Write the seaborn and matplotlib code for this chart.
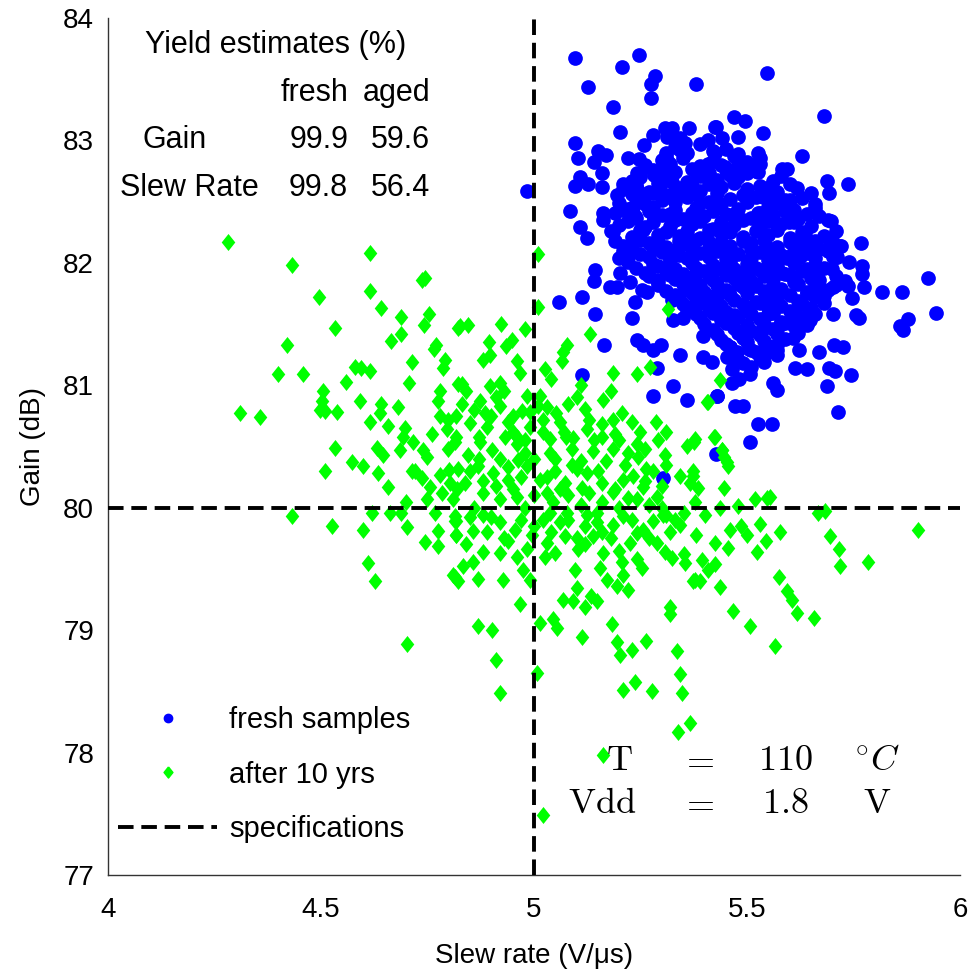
import numpy as np
import pandas as pd
import matplotlib
matplotlib.use("Agg")
import matplotlib.pyplot as plt
from matplotlib.lines import Line2D
import seaborn as sns

# -- Data: (slew rate V/us, gain dB)

# fresh samples, sparse points around the cloud
fresh_top = np.array([
    (5.096, 83.67), (5.246, 83.70), (5.207, 83.60), (5.284, 83.53), (5.275, 83.46),
    (5.127, 83.44), (5.380, 83.46), (5.275, 83.35), (5.185, 83.27), (5.202, 83.07),
    (5.096, 82.98), (5.103, 82.86), (5.150, 82.91), (5.169, 82.88), (5.141, 82.82),
    (4.983, 82.59), (5.108, 82.70), (5.096, 82.63), (5.127, 82.64), (5.160, 82.73),
    (5.160, 82.62), (5.085, 82.42), (5.108, 82.29), (5.124, 82.20), (5.162, 82.41),
    (5.162, 82.35), (5.185, 82.25), (5.195, 82.55), (5.209, 82.64), (5.221, 82.86),
    (5.246, 82.85), (5.258, 82.96), (5.279, 83.04), (5.308, 83.10), (5.324, 83.10),
    (5.312, 83.03), (5.343, 83.02), (5.354, 82.98), (5.343, 82.92), (5.364, 83.10),
    (5.408, 83.00), (5.425, 83.11), (5.310, 82.87), (5.315, 82.82), (5.242, 82.73),
    (5.249, 82.70), (5.282, 82.72), (5.303, 82.70), (5.324, 82.66), (5.296, 82.62),
    (5.242, 82.60), (5.263, 82.56), (5.383, 82.73), (5.408, 82.81), (5.209, 82.43),
    (5.232, 82.46), (5.237, 82.38), (5.256, 82.27), (5.277, 82.41), (5.319, 82.54),
    (5.347, 82.56), (5.366, 82.35), (5.383, 82.46), (5.209, 82.10), (5.225, 82.08),
])

fresh_upper_right = np.array([
    (5.547, 83.55), (5.681, 83.20), (5.469, 83.19), (5.495, 83.16), (5.427, 83.11),
    (5.441, 83.02), (5.479, 83.03), (5.538, 83.06), (5.425, 82.90), (5.526, 82.90),
    (5.531, 82.86), (5.629, 82.87), (5.477, 82.78), (5.526, 82.74), (5.582, 82.77),
    (5.594, 82.77), (5.448, 82.78), (5.617, 82.61), (5.688, 82.67), (5.692, 82.57),
    (5.737, 82.64), (5.547, 82.61), (5.538, 82.54), (5.559, 82.49), (5.589, 82.51),
    (5.594, 82.43), (5.660, 82.45), (5.526, 82.41), (5.523, 82.35), (5.599, 82.33),
    (5.697, 82.34), (5.636, 82.24), (5.631, 82.19), (5.695, 82.17), (5.718, 82.14),
    (5.768, 82.16), (5.643, 82.11), (5.594, 82.05), (5.624, 82.05), (5.711, 82.05),
])

fresh_lower_right = np.array([
    (5.925, 81.88), (5.944, 81.59), (5.864, 81.76), (5.878, 81.54), (5.859, 81.48),
    (5.866, 81.45), (5.817, 81.76), (5.770, 81.91), (5.775, 81.80), (5.737, 81.81),
    (5.746, 81.71), (5.756, 81.57), (5.763, 81.55), (5.702, 81.58), (5.704, 81.33),
    (5.725, 81.31), (5.669, 81.27), (5.622, 81.29), (5.613, 81.14), (5.641, 81.13),
    (5.692, 81.14), (5.706, 81.12), (5.744, 81.08), (5.688, 80.99), (5.714, 80.78),
    (5.561, 81.02), (5.570, 80.96), (5.507, 81.09), (5.465, 81.13), (5.481, 81.05),
    (5.465, 81.02), (5.430, 80.91), (5.472, 80.83), (5.491, 80.83), (5.526, 80.68),
    (5.559, 80.68), (5.507, 80.54), (5.427, 80.44), (5.505, 81.30), (5.545, 81.26),
    (5.559, 81.31), (5.570, 81.29), (5.460, 81.31), (5.477, 81.27), (5.453, 81.23),
    (5.608, 81.39), (5.535, 81.45), (5.646, 81.59), (5.648, 81.53), (5.620, 81.56),
    (5.577, 81.49), (5.549, 81.58), (5.472, 81.56), (5.671, 81.78), (5.702, 81.80),
    (5.702, 82.05), (5.594, 82.04), (5.554, 81.92), (5.582, 81.92), (5.664, 81.89),
])

fresh_lower_left = np.array([
    (5.059, 81.68), (5.113, 81.72), (5.143, 81.94), (5.141, 81.85), (5.143, 81.58),
    (5.164, 81.33), (5.113, 81.08), (5.178, 81.80), (5.195, 81.80), (5.202, 81.92),
    (5.225, 81.84), (5.230, 81.55), (5.237, 81.68), (5.254, 81.78), (5.265, 81.76),
    (5.242, 81.37), (5.256, 81.33), (5.279, 81.29), (5.298, 81.33), (5.289, 81.86),
    (5.289, 81.14), (5.279, 80.91), (5.326, 80.99), (5.343, 81.25), (5.359, 80.88),
    (5.324, 81.70), (5.350, 81.55), (5.397, 81.40), (5.397, 81.23), (5.418, 81.19),
    (5.430, 80.91), (5.326, 81.53), (5.366, 81.62), (5.303, 80.24),
])

# fresh samples, dense core of the cloud
fresh_core = np.array([
    (5.33, 82.95), (5.39, 82.97), (5.45, 82.93), (5.36, 82.90),
    (5.30, 82.84), (5.35, 82.86), (5.42, 82.83), (5.47, 82.87), (5.50, 82.82),
    (5.28, 82.76), (5.33, 82.74), (5.37, 82.77), (5.41, 82.73), (5.45, 82.76), (5.52, 82.75),
    (5.23, 82.67), (5.31, 82.69), (5.36, 82.66), (5.43, 82.68), (5.48, 82.70), (5.56, 82.67),
    (5.21, 82.60), (5.27, 82.58), (5.34, 82.61), (5.39, 82.59), (5.44, 82.62), (5.50, 82.60),
    (5.57, 82.58),
    (5.25, 82.53), (5.30, 82.51), (5.36, 82.54), (5.41, 82.50), (5.46, 82.52), (5.52, 82.54),
    (5.60, 82.51), (5.63, 82.53),
    (5.22, 82.44), (5.28, 82.46), (5.33, 82.43), (5.38, 82.45), (5.43, 82.47), (5.48, 82.44),
    (5.55, 82.46), (5.61, 82.43),
    (5.24, 82.37), (5.30, 82.39), (5.35, 82.36), (5.40, 82.38), (5.45, 82.40), (5.51, 82.37),
    (5.56, 82.39), (5.62, 82.36), (5.67, 82.38),
    (5.20, 82.31), (5.26, 82.29), (5.32, 82.30), (5.37, 82.32), (5.42, 82.28), (5.47, 82.31),
    (5.53, 82.29), (5.58, 82.32), (5.65, 82.30),
    (5.23, 82.21), (5.29, 82.23), (5.34, 82.22), (5.39, 82.20), (5.44, 82.24), (5.49, 82.21),
    (5.55, 82.23), (5.60, 82.20), (5.68, 82.22),
    (5.21, 82.14), (5.27, 82.16), (5.31, 82.13), (5.36, 82.15), (5.41, 82.17), (5.46, 82.14),
    (5.51, 82.16), (5.57, 82.13), (5.62, 82.15), (5.72, 82.14),
    (5.25, 82.07), (5.30, 82.09), (5.34, 82.06), (5.39, 82.08), (5.43, 82.10), (5.48, 82.07),
    (5.53, 82.09), (5.58, 82.06), (5.64, 82.08), (5.69, 82.10),
    (5.22, 82.01), (5.28, 81.99), (5.32, 82.02), (5.37, 82.00), (5.42, 81.98), (5.46, 82.01),
    (5.50, 81.99), (5.55, 82.02), (5.61, 82.00), (5.66, 81.98), (5.74, 82.01),
    (5.26, 81.92), (5.31, 81.94), (5.35, 81.91), (5.40, 81.93), (5.44, 81.95), (5.49, 81.92),
    (5.53, 81.94), (5.59, 81.91), (5.63, 81.93), (5.70, 81.95),
    (5.29, 81.85), (5.33, 81.87), (5.38, 81.84), (5.42, 81.86), (5.47, 81.88), (5.51, 81.85),
    (5.56, 81.87), (5.61, 81.84), (5.67, 81.86), (5.73, 81.85),
    (5.31, 81.77), (5.36, 81.79), (5.40, 81.76), (5.45, 81.78), (5.49, 81.80), (5.54, 81.77),
    (5.58, 81.79), (5.64, 81.76), (5.69, 81.78),
    (5.34, 81.71), (5.38, 81.69), (5.43, 81.72), (5.47, 81.70), (5.52, 81.68), (5.57, 81.71),
    (5.62, 81.69), (5.66, 81.72),
    (5.36, 81.61), (5.41, 81.63), (5.45, 81.60), (5.50, 81.62), (5.55, 81.64), (5.60, 81.61),
    (5.65, 81.63),
    (5.39, 81.55), (5.44, 81.53), (5.48, 81.56), (5.53, 81.54), (5.58, 81.52), (5.63, 81.55),
    (5.42, 81.45), (5.47, 81.47), (5.51, 81.44), (5.56, 81.46), (5.61, 81.48),
    (5.44, 81.37), (5.49, 81.39), (5.54, 81.36), (5.59, 81.38),
    (5.46, 81.31), (5.51, 81.29), (5.55, 81.32),
    (5.48, 81.21), (5.53, 81.23),
    (5.51, 81.15),
])

# fresh samples, points between the rows of the core
fresh_core_fill = np.array([
    (5.31, 82.90), (5.42, 82.91), (5.48, 82.89),
    (5.26, 82.80), (5.32, 82.81), (5.39, 82.79), (5.44, 82.80), (5.53, 82.81),
    (5.25, 82.72), (5.30, 82.73), (5.39, 82.71), (5.46, 82.72), (5.50, 82.73), (5.58, 82.71),
    (5.24, 82.64), (5.29, 82.65), (5.37, 82.63), (5.41, 82.64), (5.47, 82.65), (5.53, 82.63),
    (5.60, 82.64),
    (5.23, 82.56), (5.28, 82.57), (5.32, 82.55), (5.38, 82.56), (5.43, 82.57), (5.49, 82.55),
    (5.55, 82.56), (5.65, 82.57),
    (5.20, 82.49), (5.26, 82.48), (5.33, 82.50), (5.39, 82.49), (5.44, 82.48), (5.50, 82.50),
    (5.57, 82.49), (5.66, 82.48),
    (5.19, 82.41), (5.27, 82.42), (5.32, 82.40), (5.37, 82.41), (5.42, 82.42), (5.47, 82.40),
    (5.53, 82.41), (5.59, 82.42), (5.64, 82.40),
    (5.22, 82.34), (5.28, 82.33), (5.33, 82.35), (5.39, 82.34), (5.44, 82.33), (5.49, 82.35),
    (5.55, 82.34), (5.61, 82.33), (5.69, 82.35),
    (5.18, 82.26), (5.25, 82.27), (5.31, 82.25), (5.36, 82.26), (5.41, 82.27), (5.46, 82.25),
    (5.52, 82.26), (5.57, 82.27), (5.63, 82.25), (5.71, 82.26),
    (5.19, 82.18), (5.25, 82.19), (5.29, 82.17), (5.34, 82.18), (5.38, 82.19), (5.44, 82.17),
    (5.49, 82.18), (5.54, 82.19), (5.60, 82.17), (5.66, 82.18), (5.70, 82.19),
    (5.23, 82.11), (5.28, 82.12), (5.33, 82.10), (5.37, 82.11), (5.41, 82.12), (5.45, 82.10),
    (5.51, 82.11), (5.55, 82.12), (5.61, 82.10), (5.67, 82.11),
    (5.20, 82.04), (5.27, 82.05), (5.32, 82.03), (5.36, 82.04), (5.41, 82.05), (5.45, 82.03),
    (5.51, 82.04), (5.56, 82.05), (5.61, 82.03), (5.66, 82.04), (5.71, 82.05),
    (5.24, 81.96), (5.29, 81.97), (5.33, 81.95), (5.38, 81.96), (5.42, 81.97), (5.47, 81.95),
    (5.52, 81.96), (5.57, 81.97), (5.64, 81.95), (5.68, 81.96), (5.77, 81.97),
    (5.27, 81.89), (5.32, 81.90), (5.37, 81.88), (5.41, 81.89), (5.45, 81.90), (5.50, 81.88),
    (5.54, 81.89), (5.60, 81.90), (5.65, 81.88), (5.71, 81.89),
    (5.29, 81.82), (5.35, 81.83), (5.39, 81.81), (5.43, 81.82), (5.48, 81.83), (5.52, 81.81),
    (5.56, 81.82), (5.62, 81.83), (5.66, 81.81), (5.71, 81.82),
    (5.33, 81.74), (5.37, 81.75), (5.41, 81.73), (5.46, 81.74), (5.50, 81.75), (5.55, 81.73),
    (5.60, 81.74), (5.64, 81.75), (5.68, 81.73),
    (5.35, 81.66), (5.40, 81.67), (5.44, 81.65), (5.49, 81.66), (5.53, 81.67), (5.58, 81.65),
    (5.63, 81.66), (5.68, 81.67),
    (5.38, 81.58), (5.42, 81.59), (5.47, 81.57), (5.51, 81.58), (5.56, 81.59), (5.61, 81.57),
    (5.66, 81.58),
    (5.40, 81.50), (5.45, 81.51), (5.50, 81.49), (5.54, 81.50), (5.59, 81.51), (5.64, 81.49),
    (5.43, 81.42), (5.48, 81.43), (5.53, 81.41), (5.57, 81.42), (5.62, 81.43),
    (5.45, 81.34), (5.50, 81.35), (5.57, 81.33),
    (5.47, 81.26), (5.52, 81.27), (5.57, 81.25),
    (5.49, 81.18), (5.54, 81.19),
])

# aged samples (after 10 yrs)
aged_left = np.array([
    (4.281, 82.17), (4.615, 82.08), (4.431, 81.98), (4.736, 81.86), (4.744, 81.88),
    (4.496, 81.72), (4.615, 81.77), (4.642, 81.63), (4.689, 81.56), (4.754, 81.58),
    (4.742, 81.49), (4.533, 81.47), (4.689, 81.42), (4.664, 81.36), (4.421, 81.33),
    (4.771, 81.33), (4.765, 81.30), (4.822, 81.47), (4.713, 81.19), (4.791, 81.21),
    (4.787, 81.14), (4.400, 81.09), (4.458, 81.09), (4.581, 81.15), (4.595, 81.14),
    (4.615, 81.12), (4.559, 81.03), (4.707, 81.02), (4.822, 81.01), (4.504, 80.95),
    (4.502, 80.87), (4.498, 80.80), (4.509, 80.79), (4.537, 80.78), (4.310, 80.77),
    (4.357, 80.74), (4.591, 80.87), (4.642, 80.85), (4.638, 80.77), (4.681, 80.82),
    (4.615, 80.70), (4.658, 80.67), (4.775, 80.87), (4.779, 80.75), (4.799, 80.72),
    (4.818, 80.75), (4.795, 80.64), (4.697, 80.65), (4.693, 80.58), (4.715, 80.54),
    (4.533, 80.49), (4.631, 80.49), (4.645, 80.43), (4.686, 80.47), (4.740, 80.47),
    (4.748, 80.41), (4.799, 80.48), (4.814, 80.54), (4.574, 80.37), (4.599, 80.34),
    (4.509, 80.30), (4.634, 80.28), (4.658, 80.17), (4.713, 80.30), (4.736, 80.24),
    (4.756, 80.17), (4.779, 80.27), (4.801, 80.31), (4.822, 80.32), (4.803, 80.20),
    (4.783, 80.12), (4.748, 80.07), (4.431, 79.93), (4.620, 79.96), (4.662, 79.96),
    (4.689, 79.96), (4.768, 79.96), (4.814, 79.93), (4.525, 79.85), (4.599, 79.82),
    (4.701, 79.84), (4.744, 79.72), (4.775, 79.81), (4.775, 79.69), (4.818, 79.89),
    (4.818, 79.78), (4.611, 79.55), (4.627, 79.40), (4.701, 78.89), (4.811, 79.45),
    (4.822, 79.40),
])

aged_mid = np.array([
    (5.010, 82.07), (5.010, 81.64), (4.826, 81.48), (4.846, 81.49), (4.922, 81.50),
    (4.979, 81.46), (5.131, 81.42), (4.895, 81.35), (4.934, 81.32), (4.948, 81.37),
    (4.881, 81.21), (4.897, 81.25), (5.077, 81.33), (5.069, 81.27), (5.065, 81.20),
    (5.026, 81.13), (4.967, 81.10), (5.185, 81.10), (5.241, 81.09), (5.110, 81.00),
    (4.830, 81.01), (4.897, 80.99), (4.920, 81.02), (5.163, 80.88), (5.013, 80.91),
    (5.010, 80.83), (5.120, 80.81), (5.052, 80.77), (5.022, 80.72), (5.206, 80.77),
    (5.186, 80.72), (5.286, 80.70), (5.311, 80.62), (5.360, 80.50), (5.378, 80.56),
    (5.307, 80.43), (5.124, 80.64), (5.159, 80.58), (5.075, 80.58), (5.092, 80.57),
    (5.037, 80.56), (5.037, 80.45), (5.186, 80.48), (5.139, 80.46), (5.241, 80.52),
    (5.245, 80.41), (5.214, 80.35), (5.264, 80.32), (5.233, 80.26), (5.100, 80.32),
    (5.124, 80.28), (5.073, 80.20), (5.112, 80.16), (5.159, 80.20), (5.186, 80.13),
    (5.210, 80.23), (5.257, 80.17), (5.343, 80.26), (5.366, 80.20), (5.374, 80.30),
    (5.288, 80.09), (5.241, 80.07), (5.013, 80.23), (4.983, 80.34), (5.030, 80.12),
    (5.045, 80.05), (5.077, 79.96), (5.147, 79.96), (5.351, 79.96), (5.311, 79.94),
    (4.850, 80.69), (4.885, 80.77), (4.873, 80.87), (4.920, 80.83), (4.951, 80.75),
    (4.971, 80.79), (4.983, 80.91), (4.932, 80.58), (4.901, 80.47), (4.846, 80.43),
    (4.869, 80.34), (4.904, 80.28), (4.940, 80.23), (4.979, 80.45), (4.959, 80.58),
    (4.818, 80.58), (4.838, 80.20), (4.881, 80.12), (4.920, 80.07), (4.959, 80.09),
    (4.811, 80.07), (4.991, 80.66), (4.963, 80.39), (4.873, 80.54), (5.315, 81.62),
    (5.272, 81.15), (5.408, 80.86), (5.437, 81.04), (5.425, 80.58), (5.441, 80.47),
    (5.453, 80.37),
])

aged_core = np.array([
    (4.84, 80.95), (4.86, 80.80), (4.89, 80.66), (4.91, 80.90), (4.94, 80.70),
    (4.96, 80.52), (4.99, 80.78), (5.02, 80.62), (5.05, 80.40), (5.06, 80.70),
    (5.09, 80.48), (5.11, 80.38), (5.14, 80.55), (5.17, 80.38), (5.19, 80.60),
    (5.22, 80.45), (5.25, 80.62), (5.28, 80.30), (4.85, 80.30), (4.88, 80.22),
    (4.92, 80.40), (4.95, 80.15), (4.98, 80.00), (5.02, 79.90), (5.05, 80.30),
    (5.08, 80.10), (5.11, 80.02), (5.16, 80.05), (5.20, 80.00), (5.23, 79.90),
    (5.27, 80.02), (4.86, 80.00), (4.90, 79.92), (4.97, 79.90), (5.00, 80.10),
    (5.12, 79.85), (5.18, 79.75), (5.32, 79.80), (5.30, 80.00), (4.93, 80.95),
    (4.96, 81.20), (5.04, 81.05), (5.10, 80.90), (5.18, 80.95), (4.78, 80.95),
    (4.76, 80.60), (4.72, 80.30), (4.70, 80.05),
    (4.83, 80.85), (4.87, 80.58), (4.90, 80.75), (4.95, 80.62), (4.98, 80.55),
    (5.03, 80.82), (5.07, 80.62), (5.08, 80.85), (5.13, 80.72), (5.16, 80.68),
    (5.20, 80.55), (5.23, 80.70), (5.26, 80.48), (5.29, 80.55), (5.31, 80.35),
    (4.82, 80.15), (4.87, 80.40), (4.91, 80.18), (4.94, 80.33), (4.97, 80.25),
    (5.00, 80.40), (5.03, 80.25), (5.06, 80.15), (5.09, 80.35), (5.13, 80.12),
    (5.15, 80.30), (5.19, 80.15), (5.22, 80.08), (5.26, 80.22), (5.30, 80.18),
    (4.84, 79.70), (4.89, 79.80), (4.93, 79.75), (4.96, 79.60), (5.00, 79.85),
    (5.04, 79.80), (5.08, 79.90), (5.12, 79.70), (5.16, 79.80), (5.20, 79.65),
    (5.27, 79.75), (5.33, 79.90),
])

aged_low = np.array([
    (4.815, 79.89), (4.850, 79.92), (4.881, 79.94), (4.920, 79.88), (4.955, 79.82),
    (4.818, 79.78), (4.858, 79.81), (4.881, 79.64), (4.920, 79.63), (4.834, 79.52),
    (4.858, 79.56), (4.815, 79.43), (4.869, 79.42), (4.928, 79.41), (4.975, 79.49),
    (4.983, 79.66), (4.940, 79.73), (4.995, 79.78), (5.026, 79.60), (5.049, 79.63),
    (5.073, 79.77), (5.100, 79.75), (5.104, 79.66), (5.096, 79.49), (5.100, 79.34),
    (5.069, 79.25), (5.092, 79.24), (5.120, 79.19), (5.135, 79.28), (5.147, 79.24),
    (4.967, 79.21), (5.014, 79.06), (5.045, 79.09), (5.053, 79.02), (4.869, 79.03),
    (4.901, 79.00), (4.912, 78.76), (4.920, 78.49), (5.112, 78.94), (5.182, 79.05),
    (5.194, 78.90), (5.202, 78.80), (5.229, 78.84), (5.264, 78.91), (5.237, 78.58),
    (5.210, 78.51), (5.276, 78.50), (5.319, 79.19), (5.319, 79.13), (5.336, 78.83),
    (5.343, 78.64), (5.347, 78.49), (5.339, 78.17), (5.366, 78.24), (5.163, 77.98),
    (5.022, 77.49), (5.006, 78.65), (5.147, 79.88), (5.139, 79.77), (5.163, 79.63),
    (5.155, 79.51), (5.171, 79.41), (5.194, 79.36), (5.210, 79.45), (5.221, 79.33),
    (5.206, 79.56), (5.241, 79.58), (5.253, 79.51), (5.186, 79.86), (5.210, 79.93),
    (5.241, 79.79), (5.225, 79.71), (5.256, 79.82), (5.280, 79.89), (5.303, 79.94),
    (5.288, 79.71), (5.307, 79.64), (5.323, 79.59), (5.351, 79.62), (5.354, 79.55),
    (5.378, 79.41), (5.343, 79.86), (5.124, 79.94), (5.037, 79.96), (5.061, 79.88),
    (5.030, 79.71), (4.991, 79.41),
])

aged_right = np.array([
    (5.405, 80.86), (5.423, 80.58), (5.376, 80.54), (5.441, 80.47), (5.445, 80.41),
    (5.456, 80.34), (5.374, 80.26), (5.386, 80.16), (5.445, 80.16), (5.378, 80.05),
    (5.519, 80.07), (5.546, 80.08), (5.554, 80.09), (5.480, 80.01), (5.437, 80.00),
    (5.401, 79.94), (5.667, 79.96), (5.683, 79.97), (5.902, 79.82), (5.380, 79.78),
    (5.459, 79.82), (5.487, 79.85), (5.499, 79.78), (5.531, 79.87), (5.577, 79.80),
    (5.695, 79.77), (5.425, 79.71), (5.455, 79.67), (5.545, 79.73), (5.523, 79.64),
    (5.717, 79.66), (5.394, 79.57), (5.425, 79.54), (5.409, 79.49), (5.718, 79.52),
    (5.785, 79.56), (5.374, 79.40), (5.390, 79.40), (5.437, 79.35), (5.574, 79.43),
    (5.593, 79.32), (5.605, 79.25), (5.468, 79.16), (5.617, 79.14), (5.657, 79.10),
    (5.507, 79.03), (5.566, 78.87),
])

# specifications
SPEC_SLEW = 5.0
SPEC_GAIN = 80.0

# yield table
yield_rows = ["Gain", "Slew Rate"]
yield_fresh = ["99.9", "99.8"]
yield_aged = ["59.6", "56.4"]

# operating conditions
cond_names = [r"$\mathrm{T}$", r"$\mathrm{Vdd}$"]
cond_values = [r"$110$", r"$1.8$"]
cond_units = [r"$^{\circ}C$", r"$\mathrm{V}$"]

# -- Tables for seaborn
df_fresh = pd.DataFrame(
    np.vstack([fresh_top, fresh_upper_right, fresh_lower_right, fresh_lower_left,
               fresh_core, fresh_core_fill]),
    columns=["slew", "gain"])
df_aged = pd.DataFrame(
    np.vstack([aged_left, aged_mid, aged_core, aged_low, aged_right]),
    columns=["slew", "gain"])

# -- Style
sns.set_style("white")
plt.rcParams["font.family"] = ["Liberation Sans", "DejaVu Sans"]
plt.rcParams["mathtext.fontset"] = "cm"
plt.rcParams["text.color"] = "black"
plt.rcParams["axes.labelcolor"] = "black"
plt.rcParams["xtick.labelcolor"] = "black"
plt.rcParams["ytick.labelcolor"] = "black"

BLUE = "#0000ff"
GREEN = "#00ff00"
DIAMOND = [(0, 1), (0.8, 0), (0, -1), (-0.8, 0), (0, 1)]
DASH = (0, (4, 2))

fig = plt.figure(figsize=(9.7, 9.76), dpi=100)
ax = fig.add_axes([0.1113, 0.1035, 0.8784, 0.8781])

sns.scatterplot(data=df_fresh, x="slew", y="gain", color=BLUE, marker="o",
                s=112, linewidth=0, ax=ax, zorder=2)
sns.scatterplot(data=df_aged, x="slew", y="gain", color=GREEN, marker=DIAMOND,
                s=150, linewidth=0, ax=ax, zorder=3)

ax.axvline(SPEC_SLEW, color="black", lw=2.8, ls=DASH, zorder=4)
ax.axhline(SPEC_GAIN, color="black", lw=2.8, ls=DASH, zorder=4)

ax.set_xlim(4, 6)
ax.set_ylim(77, 84)
ax.set_xticks([4, 4.5, 5, 5.5, 6])
ax.set_xticklabels(["4", "4.5", "5", "5.5", "6"])
ax.set_yticks(range(77, 85))
ax.tick_params(direction="in", length=8, width=1, labelsize=20, color="#333333")
ax.tick_params(axis="y", pad=10)
ax.tick_params(axis="x", pad=16)
for side in ["top", "right"]:
    ax.spines[side].set_visible(False)
for side in ["left", "bottom"]:
    ax.spines[side].set_color("#333333")
    ax.spines[side].set_linewidth(1)

ax.set_xlabel("Slew rate (V/\u03bcs)", fontsize=20, labelpad=14)
ax.set_ylabel("Gain (dB)", fontsize=20, labelpad=12)

# yield estimates table
ax.text(0.197, 0.968, "Yield estimates (%)", transform=ax.transAxes,
        fontsize=22, ha="center", va="center")
ax.text(0.282, 0.912, "fresh", transform=ax.transAxes, fontsize=22, ha="right", va="center")
ax.text(0.378, 0.912, "aged", transform=ax.transAxes, fontsize=22, ha="right", va="center")
row_y = [0.858, 0.802]
row_x = [0.041, 0.014]
for i in range(len(yield_rows)):
    ax.text(row_x[i], row_y[i], yield_rows[i], transform=ax.transAxes,
            fontsize=22, ha="left", va="center")
    ax.text(0.282, row_y[i], yield_fresh[i], transform=ax.transAxes,
            fontsize=22, ha="right", va="center")
    ax.text(0.378, row_y[i], yield_aged[i], transform=ax.transAxes,
            fontsize=22, ha="right", va="center")

# operating conditions
cond_y = [0.133, 0.083]
cond_x = [0.600, 0.58]
for i in range(len(cond_names)):
    ax.text(cond_x[i], cond_y[i], cond_names[i], transform=ax.transAxes,
            fontsize=26, ha="center", va="center")
    ax.text(0.691, cond_y[i], r"$=$", transform=ax.transAxes,
            fontsize=26, ha="center", va="center")
    ax.text(0.795, cond_y[i], cond_values[i], transform=ax.transAxes,
            fontsize=26, ha="center", va="center")
    ax.text(0.903, cond_y[i], cond_units[i], transform=ax.transAxes,
            fontsize=26, ha="center", va="center")

# legend
handles = [
    Line2D([], [], ls="none", marker="o", color=BLUE, markersize=6),
    Line2D([], [], ls="none", marker=DIAMOND, color=GREEN, markersize=8),
    Line2D([], [], color="black", lw=2.8, ls=DASH),
]
labels = ["fresh samples", "after 10 yrs", "specifications"]
ax.legend(handles, labels, loc="upper left", bbox_to_anchor=(0.012, 0.197),
          frameon=False, fontsize=21, handlelength=3.4, handletextpad=0.4,
          labelspacing=0.91, borderpad=0, borderaxespad=0)

fig.savefig("out.png", dpi=100)
